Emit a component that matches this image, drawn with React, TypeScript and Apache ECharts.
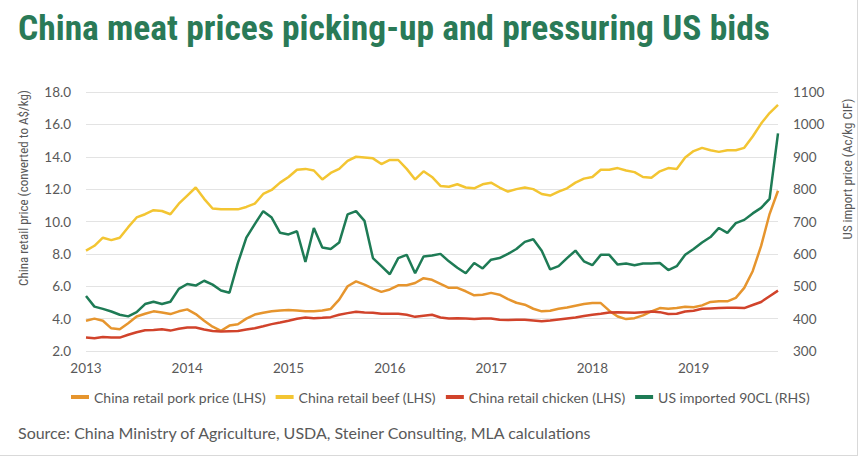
import React, { useEffect, useRef } from "react";
import * as echarts from "echarts";

const startYear = 2013;
const monthCount = 83; // Jan 2013 .. Nov 2019
const months: string[] = [];
for (let i = 0; i < monthCount; i++) {
  const y = startYear + Math.floor(i / 12);
  const m = (i % 12) + 1;
  months.push(`${y}-${m < 10 ? "0" + m : m}`);
}

const porkPrice = [
  3.87, 4.0, 3.87, 3.4, 3.35, 3.72, 4.13, 4.3, 4.45, 4.38, 4.28, 4.45,
  4.57, 4.28, 3.87, 3.5, 3.25, 3.57, 3.65, 4.0, 4.25, 4.36, 4.45, 4.5,
  4.53, 4.5, 4.45, 4.45, 4.5, 4.6, 5.17, 6.0, 6.3, 6.1, 5.85, 5.65,
  5.8, 6.06, 6.06, 6.2, 6.5, 6.4, 6.15, 5.9, 5.9, 5.69, 5.44, 5.48,
  5.59, 5.48, 5.21, 4.98, 4.86, 4.61, 4.45, 4.49, 4.61, 4.69, 4.8, 4.9,
  4.96, 4.96, 4.49, 4.13, 3.97, 4.03, 4.2, 4.45, 4.65, 4.61, 4.65, 4.74,
  4.7, 4.82, 5.03, 5.07, 5.07, 5.28, 5.9, 6.93, 8.49, 10.46, 11.9,
];

const beefPrice = [
  8.2, 8.5, 9.0, 8.85, 9.0, 9.65, 10.25, 10.45, 10.7, 10.65, 10.45, 11.1,
  11.6, 12.1, 11.4, 10.8, 10.75, 10.75, 10.75, 10.9, 11.1, 11.7, 11.95, 12.4,
  12.75, 13.2, 13.25, 13.15, 12.6, 13.0, 13.25, 13.75, 14.0, 13.95, 13.9, 13.55,
  13.8, 13.8, 13.25, 12.6, 13.1, 12.75, 12.2, 12.15, 12.3, 12.1, 12.05, 12.3,
  12.4, 12.1, 11.85, 12.0, 12.1, 12.0, 11.7, 11.6, 11.85, 12.05, 12.4, 12.65,
  12.75, 13.2, 13.2, 13.3, 13.15, 13.05, 12.75, 12.7, 13.1, 13.3, 13.25, 13.95,
  14.35, 14.55, 14.4, 14.3, 14.4, 14.4, 14.55, 15.25, 16.05, 16.7, 17.2,
];

const chickenPrice = [
  2.83, 2.79, 2.87, 2.83, 2.83, 3.0, 3.16, 3.28, 3.3, 3.34, 3.26, 3.37,
  3.45, 3.45, 3.33, 3.24, 3.2, 3.22, 3.24, 3.33, 3.41, 3.53, 3.66, 3.76,
  3.87, 3.99, 4.07, 4.03, 4.05, 4.09, 4.24, 4.34, 4.42, 4.38, 4.36, 4.3,
  4.3, 4.3, 4.24, 4.11, 4.18, 4.24, 4.07, 4.01, 4.03, 4.01, 3.97, 4.01,
  4.01, 3.93, 3.91, 3.93, 3.93, 3.89, 3.84, 3.89, 3.95, 4.01, 4.07, 4.16,
  4.24, 4.3, 4.38, 4.4, 4.38, 4.36, 4.4, 4.44, 4.4, 4.28, 4.3, 4.44,
  4.49, 4.61, 4.63, 4.65, 4.67, 4.67, 4.65, 4.84, 5.03, 5.38, 5.73,
];

const usImported90CL = [
  470, 437, 430, 422, 412, 407, 420, 445, 452, 445, 452, 492,
  507, 502, 517, 505, 487, 480, 572, 650, 692, 732, 712, 665,
  660, 670, 575, 680, 620, 615, 635, 722, 732, 702, 587, 562,
  537, 587, 597, 540, 592, 595, 600, 577, 557, 540, 572, 555,
  582, 587, 600, 615, 637, 645, 610, 552, 562, 587, 610, 577,
  565, 597, 597, 567, 570, 565, 570, 570, 572, 550, 562, 597,
  615, 635, 652, 680, 665, 695, 705, 725, 742, 770, 972,
];

const seriesNames = [
  "China retail pork price (LHS)",
  "China retail beef (LHS)",
  "China retail chicken (LHS)",
  "US imported 90CL (RHS)",
];
const seriesColors = ["#E6952E", "#F3C532", "#D1432B", "#1E7B55"];

const titleText = "China meat prices picking-up and pressuring US bids";
const leftAxisTitle = "China retail price (converted to A$/kg)";
const rightAxisTitle = "US import price (Ac/kg CIF)";
const sourceText = "Source: China Ministry of Agriculture, USDA, Steiner Consulting, MLA calculations";

const NARROW = "'Roboto Condensed', 'Liberation Sans Narrow', sans-serif";
const BODY = "Lato, 'Open Sans', sans-serif";
const GREY = "#595959";

export default function App() {
  const ref = useRef<HTMLDivElement>(null);
  useEffect(() => {
    if (!ref.current) return;
    const chart = echarts.init(ref.current, undefined, { renderer: "svg" });
    const mk = (i: number, data: number[], yAxisIndex: number) => ({
      name: seriesNames[i],
      type: "line",
      yAxisIndex,
      data,
      showSymbol: false,
      symbol: "none",
      lineStyle: { color: seriesColors[i], width: 2.5 },
      itemStyle: { color: seriesColors[i] },
    });
    chart.setOption({
      animation: false,
      backgroundColor: "#ffffff",
      textStyle: { fontFamily: BODY },
      grid: { left: 86, right: 86, top: 92, bottom: 109 },
      legend: {
        data: seriesNames,
        left: 66,
        top: 385,
        icon: "rect",
        itemWidth: 18,
        itemHeight: 4,
        itemGap: 10,
        textStyle: { color: GREY, fontSize: 14, fontFamily: BODY },
      },
      xAxis: {
        type: "category",
        data: months,
        boundaryGap: false,
        axisLine: { show: false },
        axisTick: { show: false },
        splitLine: { show: false },
        axisLabel: {
          color: GREY,
          fontSize: 13.5,
          fontFamily: BODY,
          margin: 10,
          interval: (idx: number) => idx % 12 === 0,
          formatter: (v: string) => v.slice(0, 4),
        },
      },
      yAxis: [
        {
          type: "value",
          min: 2,
          max: 18,
          interval: 2,
          axisLine: { show: false },
          axisTick: { show: false },
          splitLine: { lineStyle: { color: "#e3e3e3", width: 1 } },
          axisLabel: {
            color: GREY,
            fontSize: 13.5,
            fontFamily: BODY,
            margin: 15,
            formatter: (v: number) => v.toFixed(1),
          },
        },
        {
          type: "value",
          min: 300,
          max: 1100,
          interval: 100,
          axisLine: { show: false },
          axisTick: { show: false },
          splitLine: { show: false },
          axisLabel: {
            color: GREY,
            fontSize: 13.5,
            fontFamily: BODY,
            margin: 15,
            formatter: (v: number) => String(v),
          },
        },
      ],
      graphic: [
        {
          type: "text",
          left: 18,
          top: 10,
          style: {
            text: titleText,
            fill: "#2A7A57",
            font: `bold 35.5px ${NARROW}`,
          },
        },
        {
          type: "text",
          x: 23,
          y: 188,
          rotation: Math.PI / 2,
          style: {
            text: leftAxisTitle,
            fill: GREY,
            font: `13px ${NARROW}`,
            textAlign: "center",
            textVerticalAlign: "middle",
          },
        },
        {
          type: "text",
          x: 847,
          y: 169,
          rotation: Math.PI / 2,
          style: {
            text: rightAxisTitle,
            fill: GREY,
            font: `13px ${NARROW}`,
            textAlign: "center",
            textVerticalAlign: "middle",
          },
        },
        {
          type: "text",
          left: 18,
          top: 424,
          style: {
            text: sourceText,
            fill: GREY,
            font: `16px ${BODY}`,
          },
        },
        {
          type: "line",
          shape: { x1: 857.5, y1: 0, x2: 857.5, y2: 455 },
          style: { stroke: "#d9d9d9", lineWidth: 1 },
        },
        {
          type: "line",
          shape: { x1: 0, y1: 455.5, x2: 858, y2: 455.5 },
          style: { stroke: "#d9d9d9", lineWidth: 1 },
        },
      ],
      series: [
        mk(0, porkPrice, 0),
        mk(1, beefPrice, 0),
        mk(2, chickenPrice, 0),
        mk(3, usImported90CL, 1),
      ],
    });
    return () => chart.dispose();
  }, []);
  return (
    <div
      ref={ref}
      style={{ position: "fixed", left: 0, top: 0, width: 864, height: 460 }}
    />
  );
}
